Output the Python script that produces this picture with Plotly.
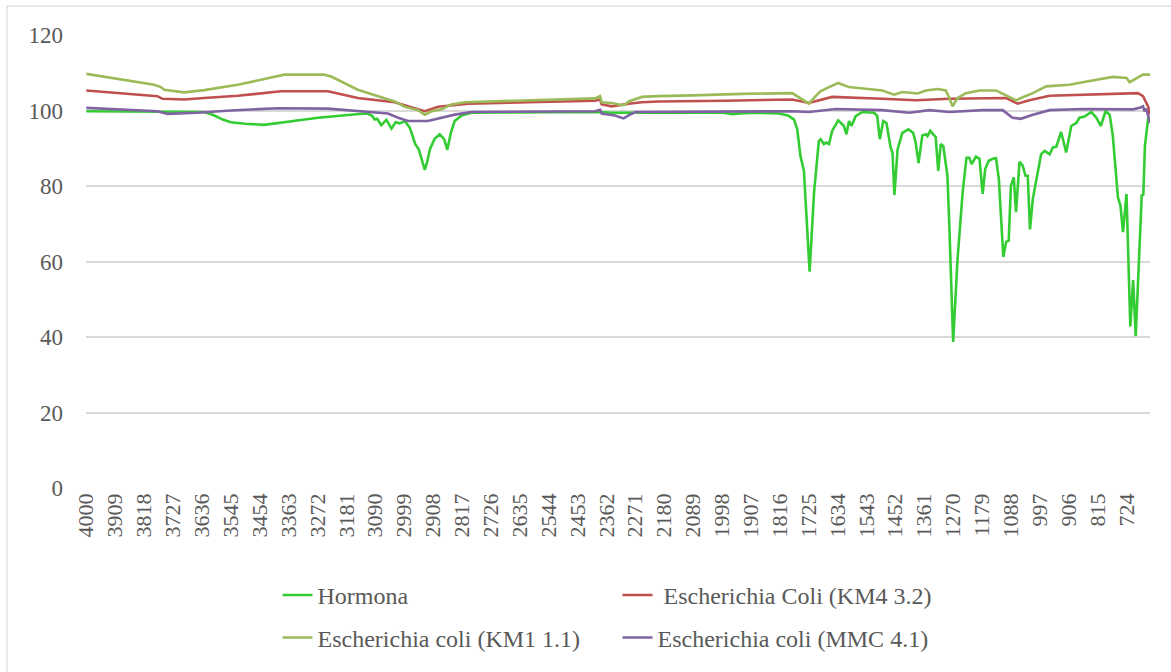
import plotly.graph_objects as go

# ---------------- data ----------------
tick_labels = [str(4000 - 91 * k) for k in range(37)]
tick_vals = [4000 - 91 * k for k in range(37)]

hormona_wn = [4000, 3900, 3800, 3700, 3630, 3600, 3570, 3545, 3500, 3440, 3400, 3330, 3270, 3200, 3150,
              3115, 3100, 3092, 3084, 3071, 3055, 3039, 3026, 3013, 2997, 2981, 2964, 2953, 2944, 2934,
              2926, 2918, 2903, 2887, 2873, 2863, 2852, 2840, 2818, 2787, 2700, 2500, 2382, 2345, 2200,
              2000, 1966, 1930, 1880, 1819, 1790, 1771, 1761, 1751, 1740, 1722, 1708, 1693, 1687, 1677,
              1670, 1661, 1651, 1632, 1614, 1606, 1598, 1590, 1577, 1556, 1519, 1509, 1501, 1490, 1480,
              1467, 1461, 1455, 1445, 1430, 1411, 1396, 1388, 1379, 1367, 1356, 1351, 1342, 1330, 1325,
              1317, 1309, 1301, 1288, 1282, 1270, 1256, 1240, 1228, 1219, 1212, 1198, 1187, 1177, 1169,
              1158, 1145, 1135, 1126, 1112, 1103, 1095, 1088, 1079, 1072, 1061, 1051, 1042, 1035, 1028,
              1019, 1007, 993, 982, 966, 956, 945, 930, 914, 898, 882, 872, 856, 835, 819,
              805, 790, 777, 767, 751, 743, 735, 724, 712, 703, 695, 687, 676, 671, 666,
              655, 650]
hormona_val = [99.8, 99.8, 99.7, 99.6, 99.6, 98.8, 97.6, 96.9, 96.5, 96.2, 96.6, 97.4, 98.1, 98.7, 99.0,
               99.2, 98.6, 97.6, 97.8, 96.1, 97.5, 95.2, 96.9, 96.6, 97.2, 95.4, 91.1, 89.7, 87.0, 84.3,
               86.5, 89.7, 92.5, 93.7, 92.4, 89.6, 94.1, 97.2, 98.7, 99.4, 99.5, 99.6, 99.6, 99.4, 99.5,
               99.5, 99.0, 99.3, 99.4, 99.2, 98.7, 97.6, 95.0, 88.0, 84.0, 57.3, 78.3, 91.9, 92.4, 91.1,
               91.5, 91.1, 94.6, 97.4, 95.9, 93.7, 97.2, 95.9, 98.5, 99.6, 99.4, 98.5, 92.4, 97.2, 96.7,
               90.2, 88.8, 77.6, 89.7, 94.1, 95.0, 94.1, 91.5, 86.1, 93.4, 93.7, 93.2, 94.6, 93.4, 93.0,
               84.0, 91.1, 90.6, 82.7, 69.6, 38.7, 60.8, 78.3, 87.5, 87.5, 85.8, 87.8, 87.2, 77.9, 84.5,
               86.7, 87.2, 87.4, 81.8, 61.2, 65.2, 65.5, 80.1, 82.3, 73.1, 86.4, 85.4, 82.7, 82.7, 68.5,
               76.6, 81.8, 88.4, 89.3, 88.4, 90.2, 90.4, 94.3, 88.9, 95.9, 96.7, 98.1, 98.4, 99.6, 98.1,
               95.9, 99.8, 98.9, 93.2, 77.0, 74.8, 67.8, 77.9, 42.8, 55.1, 40.2, 58.0, 77.5, 77.7, 90.6,
               98.5, 97.0]

km4_wn = [4000, 3900, 3776, 3760, 3692, 3629, 3523, 3387, 3239, 3145, 3050, 3029, 2987, 2934, 2892,
          2850, 2797, 2608, 2398, 2382, 2377, 2345, 2313, 2292, 2250, 2198, 1987, 1777, 1724, 1651,
          1493, 1388, 1282, 1177, 1103, 1067, 1030, 966, 862, 756, 688, 672, 656, 650]
km4_val = [105.3, 104.6, 103.8, 103.1, 102.9, 103.3, 103.9, 105.1, 105.1, 103.3, 102.4, 102.2, 101.1, 99.8, 101.0,
           101.3, 101.8, 102.2, 102.6, 102.9, 101.6, 101.1, 101.6, 101.8, 102.2, 102.4, 102.6, 102.9, 102.0, 103.6,
           103.1, 102.7, 103.1, 103.3, 103.3, 101.8, 102.7, 103.9, 104.2, 104.5, 104.6, 103.8, 101.1, 98.9]

km1_wn = [4000, 3900, 3786, 3765, 3755, 3692, 3629, 3523, 3450, 3376, 3250, 3229, 3145, 3060, 3029,
          2997, 2955, 2934, 2913, 2881, 2850, 2808, 2608, 2398, 2382, 2377, 2345, 2313, 2303, 2292,
          2250, 2198, 2092, 1935, 1777, 1761, 1745, 1724, 1703, 1688, 1661, 1632, 1598, 1493, 1456,
          1430, 1382, 1356, 1319, 1293, 1282, 1272, 1256, 1230, 1187, 1135, 1103, 1072, 1051, 1019,
          977, 904, 862, 798, 767, 724, 714, 700, 672, 650]
km1_val = [109.7, 108.3, 106.8, 106.2, 105.5, 104.8, 105.4, 106.8, 108.2, 109.5, 109.5, 109.0, 105.5, 103.3, 102.4,
           101.0, 100.1, 98.9, 99.8, 100.3, 101.6, 102.2, 102.7, 103.2, 103.8, 102.2, 102.0, 101.4, 101.6, 102.4,
           103.6, 103.8, 104.0, 104.4, 104.6, 103.8, 102.9, 101.8, 103.8, 105.1, 106.2, 107.3, 106.2, 105.3, 104.2,
           104.9, 104.5, 105.3, 105.7, 105.3, 103.3, 101.1, 103.3, 104.6, 105.3, 105.3, 104.0, 102.7, 103.5, 104.6,
           106.4, 106.8, 107.5, 108.4, 108.9, 108.6, 107.5, 108.2, 109.5, 109.5]

mmc_wn = [4000, 3900, 3776, 3744, 3650, 3545, 3397, 3239, 3123, 3050, 3018, 2987, 2924, 2882, 2840,
          2787, 2398, 2382, 2377, 2335, 2308, 2292, 2271, 1777, 1724, 1640, 1493, 1408, 1345, 1282,
          1177, 1114, 1083, 1057, 1019, 966, 862, 703, 682, 672, 667, 662, 650]
mmc_val = [100.7, 100.3, 99.8, 99.1, 99.4, 100.0, 100.6, 100.5, 99.8, 99.2, 98.1, 97.2, 97.2, 98.1, 98.9,
           99.6, 99.8, 100.2, 99.2, 98.7, 97.9, 98.7, 99.6, 99.8, 99.6, 100.4, 100.1, 99.4, 100.1, 99.6,
           100.1, 100.1, 98.1, 97.8, 98.9, 100.1, 100.4, 100.3, 100.7, 101.1, 99.8, 100.5, 96.7]

series_names = ["Hormona", " Escherichia Coli (KM4 3.2)", "Escherichia coli (KM1 1.1)", "Escherichia coli (MMC 4.1)"]
series_colors = ["#33CC33", "#C0504D", "#9BBB59", "#8064A2"]

# ---------------- figure ----------------
FONT = "Liberation Serif"
TXT = "#595959"

fig = go.Figure()
data = [(hormona_wn, hormona_val), (km4_wn, km4_val), (km1_wn, km1_val), (mmc_wn, mmc_val)]
legends = ["legend", "legend", "legend2", "legend2"]
for (wn, val), name, col, lg in zip(data, series_names, series_colors, legends):
    fig.add_trace(go.Scatter(x=wn, y=val, mode="lines", name=name, legend=lg,
                             line=dict(color=col, width=2.6)))

fig.update_layout(
    width=1171, height=672,
    margin=dict(l=86, r=21, t=35, b=181),
    paper_bgcolor="white", plot_bgcolor="white",
    font=dict(family=FONT, size=22, color=TXT),
    showlegend=True,
    legend=dict(orientation="h", x=0.18, y=-0.237, xanchor="left", yanchor="middle",
                entrywidth=295, entrywidthmode="pixels", font=dict(family=FONT, size=24, color=TXT),
                bgcolor="rgba(0,0,0,0)"),
    legend2=dict(orientation="h", x=0.18, y=-0.331, xanchor="left", yanchor="middle",
                 entrywidth=295, entrywidthmode="pixels", font=dict(family=FONT, size=24, color=TXT),
                 bgcolor="rgba(0,0,0,0)"),
    xaxis=dict(range=[4001, 650], tickmode="array", tickvals=tick_vals, ticktext=tick_labels,
               tickangle=-90, showgrid=False, zeroline=False, showline=False, ticks="",
               tickfont=dict(family=FONT, size=22, color=TXT)),
    yaxis=dict(range=[0, 120], tickmode="array", tickvals=[0, 20, 40, 60, 80, 100, 120],
               showgrid=True, gridcolor="#D9D9D9", gridwidth=1.5, zeroline=False, showline=False,
               ticks="", ticklabelstandoff=22, tickfont=dict(family=FONT, size=23, color=TXT)),
    shapes=[dict(type="rect", xref="paper", yref="paper",
                 x0=(7 - 86) / 1064, x1=(1185 - 86) / 1064,
                 y0=(491 - 690) / 456, y1=(491 - 6) / 456,
                 line=dict(color="#D9D9D9", width=1.2), fillcolor="rgba(0,0,0,0)", layer="below")],
)

fig.write_html("out.html", config={"displayModeBar": False},
               post_script="document.body.style.margin='0px';")
